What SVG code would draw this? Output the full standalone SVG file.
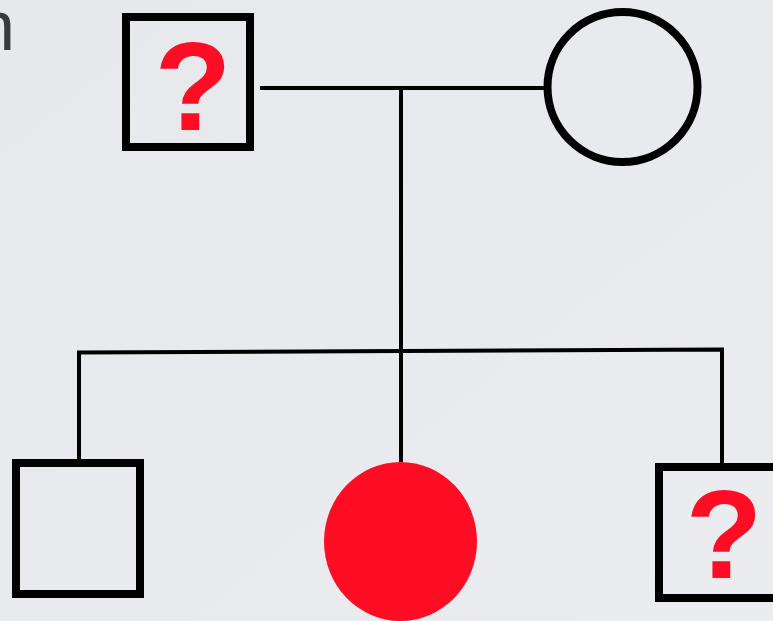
<svg xmlns="http://www.w3.org/2000/svg" width="773" height="621" viewBox="0 0 773 621">
<defs>
<linearGradient id="bg" x1="0" y1="0" x2="1" y2="1">
<stop offset="0" stop-color="#e6e8ec"/>
<stop offset="1" stop-color="#eaecf0"/>
</linearGradient>
</defs>
<style>
.box{fill:none;stroke:#000;stroke-width:8}
.ring{fill:none;stroke:#000;stroke-width:8}
.line{fill:none;stroke:#000;stroke-width:4}
.q{font-family:"Liberation Sans",Arial,sans-serif;font-weight:bold;font-size:126px;fill:#ff0d25;text-anchor:middle}
.lbl{font-family:"Liberation Sans",Arial,sans-serif;font-size:70px;fill:#3a3a3c;text-anchor:end}
</style>
<rect width="773" height="621" fill="url(#bg)"/>
<text class="lbl" x="15" y="50">n</text>
<g id="connectors">
<line class="line" x1="260" y1="88" x2="545" y2="88"/>
<line class="line" x1="401" y1="88" x2="401" y2="462"/>
<polyline class="line" points="79,461 79,352.5 401,351 722,349.5 722,463"/>
</g>
<g id="father">
<rect class="box" x="126" y="17" width="124" height="130"/>
<text class="q" x="193" y="130">?</text>
</g>
<g id="mother">
<circle class="ring" cx="622.5" cy="87" r="75"/>
</g>
<g id="son">
<rect class="box" x="16" y="463" width="124" height="131"/>
</g>
<g id="daughter">
<ellipse cx="400.5" cy="541.5" rx="76.5" ry="79.5" fill="#ff0d25"/>
</g>
<g id="son2">
<rect class="box" x="659" y="467" width="124" height="131"/>
<text class="q" x="724" y="578">?</text>
</g>
</svg>
